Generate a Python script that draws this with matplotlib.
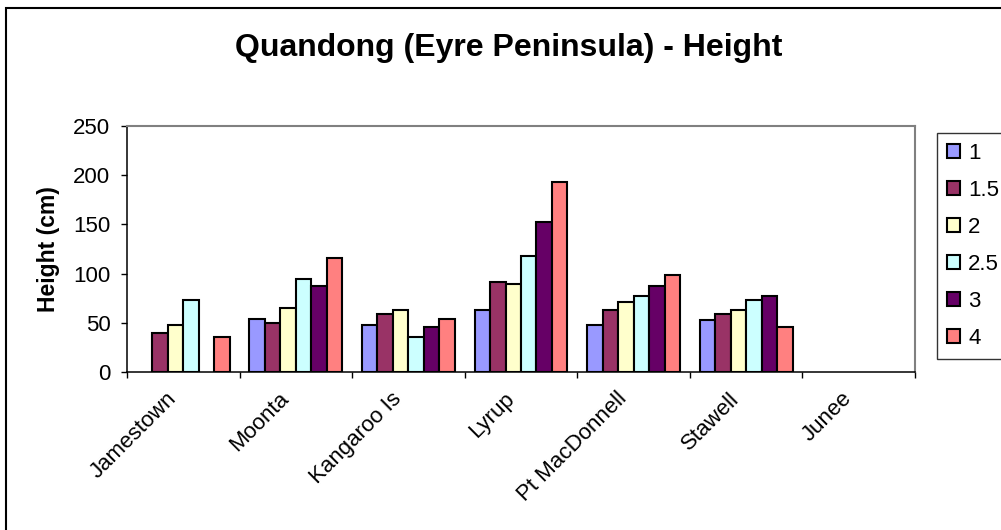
import numpy as np
import matplotlib
matplotlib.use("Agg")
import matplotlib.pyplot as plt
from matplotlib.patches import Rectangle
from matplotlib.transforms import ScaledTranslation

plt.rcParams['font.family'] = ['Liberation Sans', 'DejaVu Sans']

sites = ["Jamestown", "Moonta", "Kangaroo Is", "Lyrup", "Pt MacDonnell", "Stawell", "Junee"]
series = ["1", "1.5", "2", "2.5", "3", "4"]
nan = np.nan
h_1 = [nan, 54, 48, 63, 48, 53, nan]
h_15 = [40, 50, 59, 91, 63, 59, nan]
h_2 = [48, 65, 63, 89, 71, 63, nan]
h_25 = [73, 95, 36, 118, 77, 73, nan]
h_3 = [nan, 87, 46, 152, 87, 77, nan]
h_4 = [36, 116, 54, 193, 99, 46, nan]
colors = ["#9999FF", "#993366", "#FFFFCC", "#CCFFFF", "#660066", "#FF8080"]

values = [h_1, h_15, h_2, h_25, h_3, h_4]

fig = plt.figure(figsize=(10.01, 5.30), dpi=100)
ax = fig.add_axes([0.1269, 0.2981, 0.7872, 0.4642])

x = np.arange(len(sites))
w = 0.1375
for i, (vals, lab, c) in enumerate(zip(values, series, colors)):
    ax.bar(x + (i - 2.5) * w, vals, w, color=c, edgecolor="black",
           linewidth=1.5, label=lab)

ax.set_xlim(-0.5, len(sites) - 0.5)
ax.set_ylim(0, 250)
ax.set_yticks([0, 50, 100, 150, 200, 250])
ax.set_xticks(x)
ax.set_xticklabels(sites, rotation=45, ha="right", va="center",
                   rotation_mode="anchor", fontsize=16)
ax.set_xticks(np.arange(len(sites) + 1) - 0.5, minor=True)
ax.tick_params(axis="x", which="major", length=0, pad=17)
ax.tick_params(axis="x", which="minor", length=4, width=1, direction="out")
ax.tick_params(axis="y", length=4, width=1, direction="out", labelsize=16, pad=8)
shift = ScaledTranslation(-10 / 100, 0, fig.dpi_scale_trans)
for lbl in ax.get_xticklabels():
    lbl.set_transform(lbl.get_transform() + shift)

for s in ["top", "right"]:
    ax.spines[s].set_color("#808080")
    ax.spines[s].set_linewidth(1.5)
for s in ["left", "bottom"]:
    ax.spines[s].set_color("black")
    ax.spines[s].set_linewidth(1.1)

fig.text(0.508, 1 - 48 / 530, "Quandong (Eyre Peninsula) - Height",
         ha="center", va="center", fontsize=23, fontweight="bold")
fig.text(48 / 1001, 1 - 249 / 530, "Height (cm)", rotation=90,
         ha="center", va="center", fontsize=16.5, fontweight="bold")

leg = ax.legend(loc="upper left", bbox_to_anchor=(937 / 1001, 1 - 133 / 530),
                bbox_transform=fig.transFigure, borderaxespad=0,
                fontsize=16, frameon=True, fancybox=False,
                handlelength=0.6, handleheight=0.6, labelspacing=0.72,
                handletextpad=0.35, borderpad=0.45)
leg.get_frame().set_edgecolor("black")
leg.get_frame().set_linewidth(1.0)
for p in leg.get_patches():
    p.set_linewidth(1.5)

fig.patches.append(Rectangle((6 / 1001, -0.1), 1.2, 1 - 8 / 530 + 0.1,
                             transform=fig.transFigure, fill=False,
                             edgecolor="black", linewidth=1.5))

fig.savefig("out.png", dpi=100)
